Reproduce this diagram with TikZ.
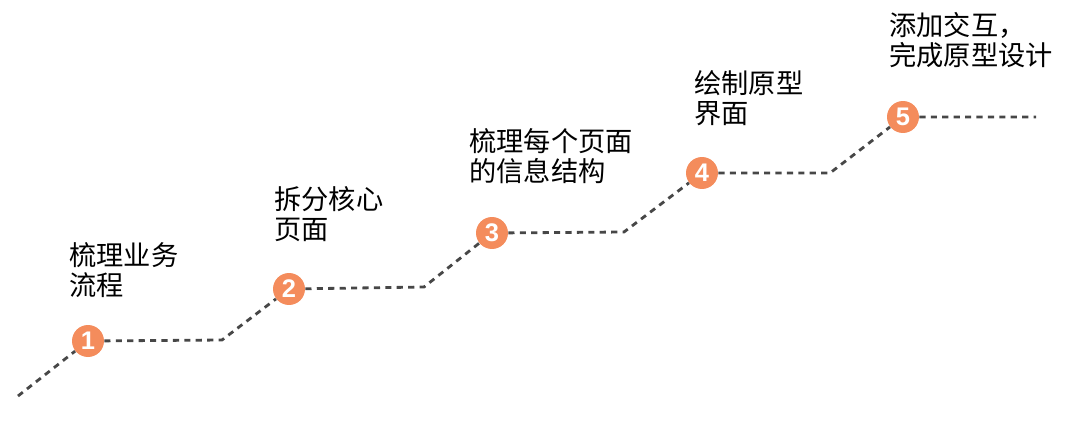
\documentclass[tikz,border=0pt]{standalone}
\usepackage{fontspec}
\setmainfont{Noto Sans CJK SC}
\newfontfamily\numfont{Liberation Sans}
\usetikzlibrary{positioning}
\definecolor{dotorange}{RGB}{244,140,92}

\begin{document}
\begin{tikzpicture}[
    x=0.02cm, y=-0.02cm,
    % Styles
    stepdot/.style={circle, fill=dotorange, minimum size=0.64cm, inner sep=0pt,
        text=white, font=\numfont\bfseries\fontsize{14.5}{14.5}\selectfont},
    steplabel/.style={anchor=north west, align=left, inner sep=0pt,
        font=\fontsize{15.5}{17.2}\selectfont},
    pathline/.style={draw=black!72, line width=1.6pt, dash pattern=on 3.5pt off 3pt},
]
\useasboundingbox (0,0) rectangle (1080,423);

% ============ Steps ============
\node[stepdot] (s1) at (88,341) {1};
\node[stepdot] (s2) at (289,289) {2};
\node[stepdot] (s3) at (492,233) {3};
\node[stepdot] (s4) at (702,173) {4};
\node[stepdot] (s5) at (903,117) {5};

% ============ Labels ============
\node[steplabel] (l1) at (69,242) {梳理业务\\流程};
\node[steplabel] (l2) at (274,186) {拆分核心\\页面};
\node[steplabel] (l3) at (469,128) {梳理每个页面\\的信息结构};
\node[steplabel] (l4) at (694,70) {绘制原型\\界面};
\node[steplabel] (l5) at (889,12) {添加交互，\\完成原型设计};

% ============ Stair path ============
\coordinate (start) at (18,396);
\coordinate (c1) at (222,340);
\coordinate (c2) at (424,287);
\coordinate (c3) at (624,232);
\coordinate (c4) at (830,173);
\coordinate (end) at (1036,117);

\draw[pathline] (start) -- (s1) -- (c1) -- (s2) -- (c2) -- (s3) -- (c3)
    -- (s4) -- (c4) -- (s5) -- (end);

\end{tikzpicture}
\end{document}
